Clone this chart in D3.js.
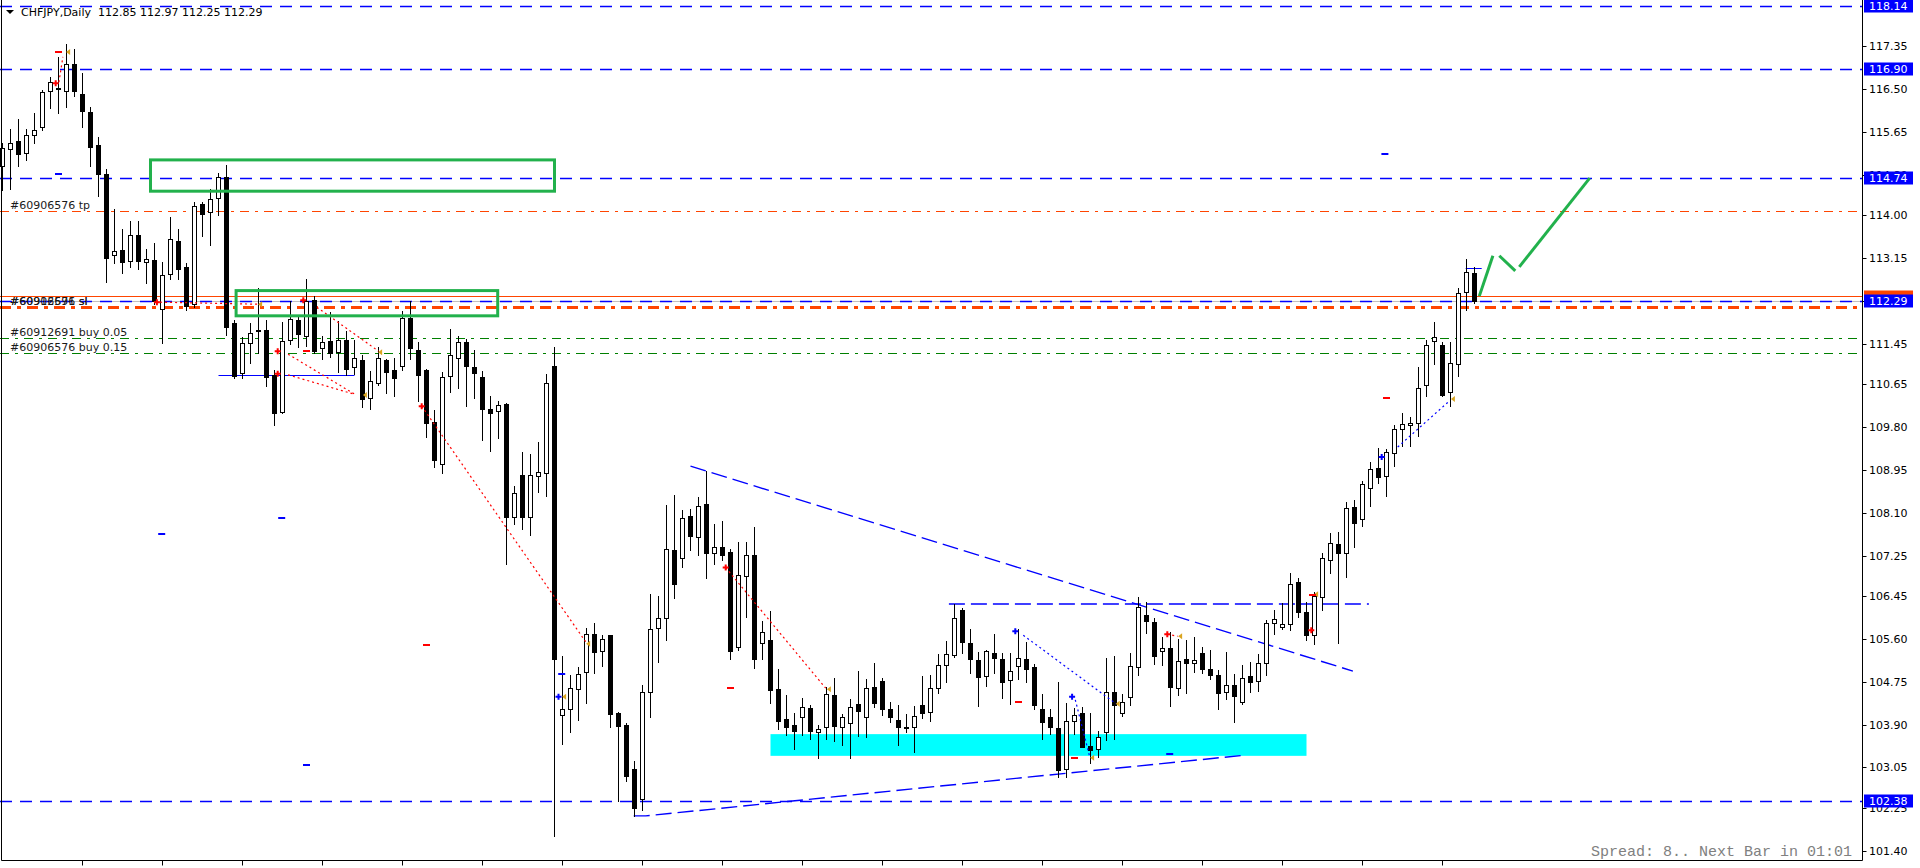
<!DOCTYPE html>
<html>
<head>
<meta charset="utf-8">
<title>CHFJPY,Daily</title>
<script src="https://cdn.jsdelivr.net/npm/d3@7"></script>
<style>
  html, body { margin: 0; padding: 0; background: #fff; overflow: hidden; }
  svg { display: block; }
  text { font-family: "DejaVu Sans", sans-serif; font-size: 11px; white-space: pre; }
</style>
</head>
<body>
<div id="chart"></div>
<script>
const symbolTitle = "CHFJPY,Daily";
const lastQuote = [112.85, 112.97, 112.25, 112.29];

// daily bars, oldest first
const opens = [
  114.96, 115.30, 115.46, 115.22, 115.58, 115.75, 116.46, 116.51, 116.46, 117.00,
  116.39, 116.03, 115.38, 114.82, 113.20, 113.31, 113.09, 113.60, 113.06, 113.11,
  112.13, 112.82, 113.48, 112.96, 112.23, 114.22, 114.05, 114.33, 114.75, 111.85,
  110.86, 111.46, 111.71, 111.72, 110.82, 110.10, 111.52, 111.92, 111.61, 112.31,
  111.36, 111.50, 111.29, 111.52, 110.98, 111.12, 110.38, 110.66, 111.12, 110.92,
  111.01, 111.96, 111.33, 110.92, 109.89, 109.07, 110.80, 111.17, 111.48, 110.98,
  110.78, 110.15, 110.11, 110.25, 108.01, 108.84, 108.01, 108.82, 108.88, 111.01,
  104.08, 104.20, 104.60, 104.94, 105.69, 105.35, 105.67, 104.12, 103.89, 103.01,
  102.42, 104.55, 105.82, 106.01, 107.36, 107.21, 108.03, 107.62, 108.27, 107.29,
  107.41, 107.32, 105.43, 106.85, 107.27, 105.51, 105.58, 104.61, 104.01, 103.89,
  104.04, 104.23, 103.76, 103.86, 104.48, 103.86, 103.94, 104.30, 104.04, 104.64,
  104.76, 104.20, 104.00, 103.86, 103.85, 104.28, 104.15, 104.62, 105.09, 105.28,
  106.17, 105.51, 105.18, 104.86, 105.32, 105.20, 104.78, 105.06, 105.19, 105.04,
  104.21, 104.04, 103.83, 103.01, 103.98, 104.12, 103.48, 103.41, 103.75, 104.54,
  104.13, 104.45, 105.05, 106.07, 105.93, 105.36, 105.41, 104.63, 105.20, 105.11,
  105.32, 105.00, 104.88, 104.55, 104.68, 104.35, 104.86, 104.77, 105.12, 105.92,
  105.84, 105.90, 106.72, 106.14, 105.68, 106.43, 107.17, 107.47, 107.29, 108.21,
  107.97, 108.58, 108.98, 108.83, 109.29, 109.75, 109.83, 109.87, 110.62, 111.50,
  111.42, 110.49, 111.04, 112.48, 112.85
];
const highs = [
  115.42, 115.70, 115.90, 115.71, 116.01, 116.48, 116.74, 117.12, 117.38, 117.28,
  116.81, 116.13, 115.54, 114.90, 114.11, 113.73, 113.87, 113.87, 113.32, 113.45,
  113.06, 113.95, 113.72, 113.04, 114.26, 114.26, 114.52, 114.84, 114.98, 111.92,
  111.59, 111.86, 112.56, 111.92, 110.92, 111.88, 112.30, 112.02, 112.72, 112.40,
  111.60, 112.07, 111.89, 111.69, 111.52, 111.22, 110.90, 111.39, 111.14, 111.16,
  112.09, 112.30, 111.49, 110.94, 110.13, 110.88, 111.74, 111.60, 111.55, 111.33,
  110.90, 110.42, 110.31, 110.27, 108.62, 109.30, 109.26, 109.50, 110.84, 111.39,
  105.26, 104.88, 105.04, 105.81, 105.91, 105.67, 105.68, 104.14, 103.93, 103.18,
  104.68, 106.49, 106.45, 108.25, 108.45, 108.15, 108.17, 108.40, 108.93, 107.87,
  107.93, 107.37, 107.52, 107.52, 107.81, 105.96, 106.16, 105.00, 104.49, 104.12,
  104.43, 104.28, 103.89, 104.65, 104.82, 104.11, 104.41, 104.97, 104.81, 105.12,
  104.82, 104.35, 104.28, 104.11, 104.27, 104.87, 104.88, 105.29, 105.55, 106.29,
  106.20, 105.79, 105.34, 105.37, 105.69, 105.31, 105.31, 105.79, 105.54, 105.10,
  104.50, 104.21, 104.74, 104.32, 104.22, 104.25, 104.12, 103.77, 105.21, 105.26,
  104.51, 105.31, 106.42, 106.32, 106.02, 105.63, 105.73, 105.59, 105.58, 105.63,
  105.44, 105.38, 104.98, 105.34, 104.90, 105.08, 105.13, 105.29, 105.97, 106.17,
  106.30, 106.90, 106.80, 106.32, 106.53, 107.29, 107.69, 107.72, 108.31, 108.35,
  108.73, 109.10, 109.38, 109.36, 109.83, 110.07, 109.99, 110.99, 111.52, 111.87,
  111.49, 111.48, 112.55, 113.13, 112.97
];
const lows = [
  114.49, 114.51, 114.96, 115.09, 115.42, 115.68, 116.12, 116.02, 116.14, 116.36,
  115.75, 114.96, 114.38, 112.68, 113.04, 112.84, 112.96, 112.92, 112.65, 112.23,
  111.46, 112.72, 112.72, 112.12, 112.18, 113.59, 113.40, 114.00, 111.62, 110.77,
  110.77, 111.06, 111.27, 110.60, 109.84, 110.08, 111.45, 111.39, 111.41, 111.26,
  111.15, 111.19, 110.88, 110.82, 110.84, 110.20, 110.16, 110.63, 110.48, 110.41,
  110.92, 111.14, 110.31, 109.59, 109.01, 108.89, 110.50, 110.57, 110.22, 110.38,
  109.53, 109.33, 109.57, 107.09, 107.87, 107.78, 107.65, 108.50, 108.42, 101.70,
  103.51, 103.76, 104.00, 104.32, 104.93, 105.07, 103.86, 102.38, 102.79, 102.09,
  102.21, 104.04, 105.13, 105.58, 106.41, 107.03, 107.36, 107.26, 106.81, 107.08,
  107.16, 105.20, 105.38, 106.04, 105.03, 105.20, 104.32, 103.82, 103.69, 103.41,
  103.70, 103.61, 103.23, 103.61, 103.57, 103.49, 103.23, 103.67, 103.66, 104.24,
  104.09, 103.95, 103.49, 103.76, 103.36, 104.02, 103.98, 104.52, 104.75, 105.24,
  105.31, 104.92, 104.27, 104.67, 104.92, 104.43, 104.30, 104.81, 104.74, 104.20,
  103.61, 103.71, 102.86, 102.86, 103.71, 103.45, 103.13, 103.26, 103.59, 103.61,
  104.06, 104.29, 104.88, 105.72, 105.10, 105.08, 104.27, 104.49, 104.53, 104.95,
  104.93, 104.80, 104.21, 104.41, 103.96, 104.31, 104.55, 104.57, 104.88, 105.69,
  105.80, 105.77, 106.03, 105.58, 105.50, 106.17, 106.91, 105.52, 106.83, 107.42,
  107.84, 108.24, 108.69, 108.42, 109.03, 109.43, 109.43, 109.62, 110.42, 111.05,
  110.42, 110.22, 110.81, 112.12, 112.25
];
const closes = [
  115.32, 115.42, 115.20, 115.58, 115.68, 116.44, 116.63, 116.49, 117.00, 116.46,
  116.05, 115.35, 114.81, 113.15, 113.29, 113.07, 113.60, 113.08, 113.12, 112.30,
  112.80, 113.52, 112.93, 112.20, 114.18, 114.01, 114.31, 114.75, 111.78, 110.81,
  111.47, 111.65, 111.69, 110.79, 110.08, 111.50, 111.93, 111.63, 112.30, 111.31,
  111.48, 111.27, 111.52, 110.95, 111.17, 110.36, 110.70, 111.16, 110.89, 110.77,
  111.96, 111.37, 110.82, 109.88, 109.15, 110.78, 111.23, 111.49, 111.01, 110.86,
  110.16, 110.08, 110.23, 108.01, 108.48, 108.02, 108.84, 108.90, 110.66, 105.19,
  104.20, 104.62, 104.90, 105.69, 105.33, 105.60, 104.11, 103.87, 102.89, 102.24,
  104.55, 105.79, 106.01, 107.38, 106.69, 107.99, 107.64, 108.23, 107.29, 107.42,
  107.27, 105.36, 106.86, 107.27, 105.20, 105.73, 104.59, 103.98, 103.86, 103.78,
  104.24, 103.78, 103.81, 104.51, 103.88, 104.04, 104.24, 104.17, 104.62, 104.32,
  104.21, 104.04, 103.85, 103.83, 104.06, 104.13, 104.62, 105.09, 105.29, 106.01,
  105.53, 105.19, 104.85, 105.35, 105.22, 104.74, 104.96, 105.22, 105.01, 104.29,
  103.95, 103.85, 102.99, 103.97, 104.08, 103.46, 103.40, 103.65, 104.54, 104.29,
  104.35, 105.07, 106.22, 105.95, 105.25, 105.41, 104.65, 105.16, 105.11, 105.17,
  105.01, 104.88, 104.53, 104.68, 104.47, 104.82, 104.75, 105.11, 105.91, 105.99,
  105.89, 106.68, 106.13, 105.68, 106.44, 107.21, 107.49, 107.29, 108.19, 107.90,
  108.66, 108.96, 108.81, 109.31, 109.75, 109.85, 109.87, 110.56, 111.42, 111.59,
  110.44, 111.06, 112.45, 112.86, 112.29
];

// price scale labels; the 112.30 one sits fully under the bid box, so only its tick shows
const axisTicks = [117.35, 116.50, 115.65, 114.80, 114.00, 113.15, 112.30, 111.45, 110.65,
  109.80, 108.95, 108.10, 107.25, 106.45, 105.60, 104.75, 103.90, 103.05, 102.25, 101.40];
const hiddenTicks = [112.30];
const levelPrices = [118.14, 116.90, 114.74, 112.29, 102.38];
const bidPrice = 112.29;
const askPrice = 112.37;

const orderTexts = ["#60906576 tp", "#60912691 sl", "#60906576 sl", "#60912691 buy 0.05", "#60906576 buy 0.15"];
const orderPrices = [114.08, 112.18, 112.18, 111.56, 111.26];
const orderKinds = ["tp", "sl", "sl", "buy", "buy"];

// analysis objects: [bar, price] pairs
const triangleTop = [[86.0, 109.02], [168.8, 104.96]];
const triangleBottom = [[78.9, 102.09], [80.4, 102.09], [155.1, 103.29]];
const neckLine = [[118.3, 106.29], [170.8, 106.29]];
const supportZone = [96.0, 103.71, 163.0, 103.28];
const greenBoxes = [[18.5, 115.09, 69.0, 114.47], [29.2, 112.50, 61.9, 112.00]];
const greenLegs = [
  [[184.6, 112.39], [186.3, 113.19]],
  [[187.1, 113.19], [189.1, 112.89]],
  [[189.6, 112.97], [198.4, 114.73]]
];
const blueSolid = [[27.0, 110.83, 44.0, 110.83], [182.9, 112.95, 184.9, 112.95]];

// trade history marks
const redDotted = [[7.05, 116.63, 7.55, 117.13], [19.7, 112.27, 32.0, 112.23], [39.3, 112.17, 47.0, 111.30],
  [35.7, 111.24, 44.1, 110.44], [35.7, 110.83, 44.1, 110.44], [52.4, 110.21, 72.9, 105.54],
  [90.4, 107.01, 102.9, 104.62], [145.6, 105.69, 146.9, 105.65]];
const blueDotted = [[127.6, 105.67, 139.2, 104.31], [134.1, 104.39, 135.9, 103.26], [174.4, 109.40, 180.7, 110.29]];
const redCrosses = [[6.65, 116.61], [19.3, 112.27], [37.6, 112.31], [34.4, 111.30], [34.4, 110.85],
  [52.4, 110.21], [90.4, 107.01], [145.6, 105.69], [163.6, 105.77]];
const blueCrosses = [[69.5, 104.45], [126.6, 105.75], [133.7, 104.45], [172.4, 109.20]];
const goldMarks = [[8.2, 117.23], [32.2, 112.23], [47.2, 111.28], [45.3, 110.43], [73.2, 105.50], [103.3, 104.60],
  [147.2, 105.65], [164.2, 106.48], [70.2, 104.45], [139.4, 104.31], [136.2, 103.24], [181.3, 110.35]];
const redDashes = [[7.0, 117.23], [38.0, 111.30], [53.0, 105.48], [91.0, 104.62], [127.0, 104.35],
  [134.0, 103.24], [173.0, 110.37], [163.75, 106.47]];
const blueDashes = [[7.0, 114.81], [19.9, 107.68], [34.9, 107.99], [38.0, 103.10], [69.9, 104.90],
  [145.9, 103.32], [172.8, 115.21]];

const timeTicks = d3.range(10, 181, 10);
const spreadText = "Spread: 8.. Next Bar in 01:01";

const width = 1920;
const height = 868;
const plotRight = 1862.5;
const plotBottom = 860.5;

const x = d3.scaleLinear().domain([0, 232.5]).range([2.5, plotRight]);
const y = d3.scaleLinear().domain([101.14, 118.14]).range([6 + 17 * 50.46, 6]);
const yc = (p) => Math.round(y(p)) + 0.5;

const svg = d3.select("#chart").append("svg")
  .attr("width", width).attr("height", height);

svg.append("rect").attr("width", width).attr("height", height).attr("fill", "#fff");

svg.append("defs").append("clipPath").attr("id", "plot")
  .append("rect").attr("x", 0).attr("y", 0).attr("width", plotRight).attr("height", plotBottom);

const plot = svg.append("g").attr("clip-path", "url(#plot)");

// support zone
plot.append("rect")
  .attr("x", x(supportZone[0])).attr("y", y(supportZone[1]))
  .attr("width", x(supportZone[2]) - x(supportZone[0]))
  .attr("height", y(supportZone[3]) - y(supportZone[1]))
  .attr("fill", "#00ffff");

// bid / ask
plot.append("line").attr("x1", 0).attr("x2", plotRight)
  .attr("y1", yc(bidPrice)).attr("y2", yc(bidPrice))
  .attr("stroke", "#c0c0c0").attr("stroke-width", 1);
plot.append("line").attr("x1", 0).attr("x2", plotRight)
  .attr("y1", yc(askPrice) - 1).attr("y2", yc(askPrice) - 1)
  .attr("stroke", "#ff4500").attr("stroke-width", 1);

// horizontal levels
plot.selectAll(".level").data(levelPrices).enter().append("line")
  .attr("class", "level")
  .attr("x1", 0).attr("x2", plotRight)
  .attr("y1", (d) => yc(d)).attr("y2", (d) => yc(d))
  .attr("stroke", "#0000ff").attr("stroke-width", 1.3)
  .attr("stroke-dasharray", "12,8");

// order levels
orderPrices.forEach((p, i) => {
  const kind = orderKinds[i];
  plot.append("line")
    .attr("x1", 0).attr("x2", plotRight)
    .attr("y1", yc(p)).attr("y2", yc(p))
    .attr("stroke", kind == "buy" ? "#008000" : "#ff4500")
    .attr("stroke-width", kind == "sl" ? 3 : 1)
    .attr("stroke-dasharray", kind == "sl" ? "11,6,4,6" : "9,6,3,6");
});

const line = d3.line().x((d) => x(d[0])).y((d) => y(d[1]));

[triangleTop, triangleBottom, neckLine].forEach((pts) => {
  plot.append("path").attr("d", line(pts))
    .attr("fill", "none").attr("stroke", "#0000ff")
    .attr("stroke-width", 1.4).attr("stroke-dasharray", "16,6");
});

blueSolid.forEach((d) => {
  plot.append("line")
    .attr("x1", x(d[0])).attr("x2", x(d[2]))
    .attr("y1", yc(d[1])).attr("y2", yc(d[3]))
    .attr("stroke", "#0000ff").attr("stroke-width", 1);
});

// candles
const bars = closes.map((c, i) => ({ i, o: opens[i], h: highs[i], l: lows[i], c }));

const candle = plot.selectAll(".candle").data(bars).enter().append("g").attr("class", "candle");

candle.append("line")
  .attr("x1", (d) => x(d.i)).attr("x2", (d) => x(d.i))
  .attr("y1", (d) => Math.round(y(d.h))).attr("y2", (d) => Math.round(y(d.l)) + 1)
  .attr("stroke", "#000").attr("stroke-width", 1);

candle.append("rect")
  .attr("x", (d) => x(d.i) - 2)
  .attr("y", (d) => yc(Math.max(d.o, d.c)))
  .attr("width", 4)
  .attr("height", (d) => Math.max(0, yc(Math.min(d.o, d.c)) - yc(Math.max(d.o, d.c))))
  .attr("fill", (d) => (d.c >= d.o ? "#fff" : "#000"))
  .attr("stroke", "#000").attr("stroke-width", 1);

// trade history
redDotted.forEach((d) => {
  plot.append("line")
    .attr("x1", x(d[0])).attr("y1", y(d[1])).attr("x2", x(d[2])).attr("y2", y(d[3]))
    .attr("stroke", "#ff0000").attr("stroke-width", 1.2).attr("stroke-dasharray", "2,3");
});
blueDotted.forEach((d) => {
  plot.append("line")
    .attr("x1", x(d[0])).attr("y1", y(d[1])).attr("x2", x(d[2])).attr("y2", y(d[3]))
    .attr("stroke", "#0000ff").attr("stroke-width", 1.2).attr("stroke-dasharray", "2,3");
});

const cross = (pts, color) => {
  pts.forEach((d) => {
    const cx = x(d[0]), cy = y(d[1]);
    plot.append("path")
      .attr("d", `M${cx - 3},${cy} H${cx + 3} M${cx},${cy - 3} V${cy + 3}`)
      .attr("stroke", color).attr("stroke-width", 2).attr("fill", "none");
  });
};
cross(redCrosses, "#ff0000");
cross(blueCrosses, "#0000ff");

goldMarks.forEach((d) => {
  const cx = x(d[0]), cy = y(d[1]);
  plot.append("path")
    .attr("d", `M${cx - 2},${cy} L${cx + 2},${cy - 3} L${cx + 2},${cy + 3} Z`)
    .attr("fill", "#daa520");
});

const dash = (pts, color) => {
  pts.forEach((d) => {
    const cx = x(d[0]), cy = Math.round(y(d[1]));
    plot.append("line")
      .attr("x1", cx - 3.5).attr("x2", cx + 3.5).attr("y1", cy).attr("y2", cy)
      .attr("stroke", color).attr("stroke-width", 2);
  });
};
dash(redDashes, "#ff0000");
dash(blueDashes, "#0000ff");

// drawn boxes and projected path
greenBoxes.forEach((b) => {
  plot.append("rect")
    .attr("x", x(b[0])).attr("y", y(b[1]))
    .attr("width", x(b[2]) - x(b[0])).attr("height", y(b[3]) - y(b[1]))
    .attr("fill", "none").attr("stroke", "#22b14c").attr("stroke-width", 3);
});
greenLegs.forEach((pts) => {
  plot.append("path").attr("d", line(pts))
    .attr("fill", "none").attr("stroke", "#22b14c").attr("stroke-width", 3);
});

// order labels
orderPrices.forEach((p, i) => {
  plot.append("text")
    .attr("x", 10).attr("y", Math.round(y(p)) - 2)
    .attr("fill", "#1a1a1a")
    .text(orderTexts[i]);
});

// header
svg.append("path").attr("d", "M6,10 L14,10 L10,14 Z").attr("fill", "#000");
svg.append("text").attr("x", 21).attr("y", 16).attr("fill", "#000")
  .text(`${symbolTitle}  ${lastQuote.map((v) => v.toFixed(2)).join(" ")}`);

// frame
svg.append("path")
  .attr("d", `M1.5,0 V${plotBottom} H${plotRight} V0`)
  .attr("fill", "none").attr("stroke", "#000").attr("stroke-width", 1);

svg.selectAll(".xtick").data(timeTicks).enter().append("line")
  .attr("class", "xtick")
  .attr("x1", (d) => x(d)).attr("x2", (d) => x(d))
  .attr("y1", plotBottom).attr("y2", plotBottom + 5)
  .attr("stroke", "#000");

// price axis
const axis = svg.append("g");
axis.selectAll(".ytick").data(axisTicks).enter().append("line")
  .attr("x1", plotRight).attr("x2", plotRight + 4)
  .attr("y1", (d) => yc(d)).attr("y2", (d) => yc(d))
  .attr("stroke", "#000");
axis.selectAll(".ylabel").data(axisTicks.filter((d) => !hiddenTicks.includes(d))).enter().append("text")
  .attr("x", 1869).attr("y", (d) => Math.round(y(d)) + 4)
  .attr("fill", "#000")
  .text((d) => d.toFixed(2));

const priceBox = (p, color, withText) => {
  const cy = Math.round(y(p));
  axis.append("rect").attr("x", 1864).attr("y", cy - 6.5).attr("width", 49).attr("height", 13)
    .attr("fill", color);
  if (withText) {
    axis.append("text").attr("x", 1869).attr("y", cy + 4)
      .attr("fill", "#fff").text(p.toFixed(2));
  }
};
// ask box is almost fully covered by the bid box
priceBox(askPrice, "#ff4500", false);
levelPrices.forEach((p) => priceBox(p, "#0000ff", true));

svg.append("text")
  .attr("x", 1852).attr("y", 856)
  .attr("text-anchor", "end")
  .style("font-family", "'Liberation Mono', monospace")
  .style("font-size", "15px")
  .attr("fill", "#808080")
  .text(spreadText);
</script>
</body>
</html>
